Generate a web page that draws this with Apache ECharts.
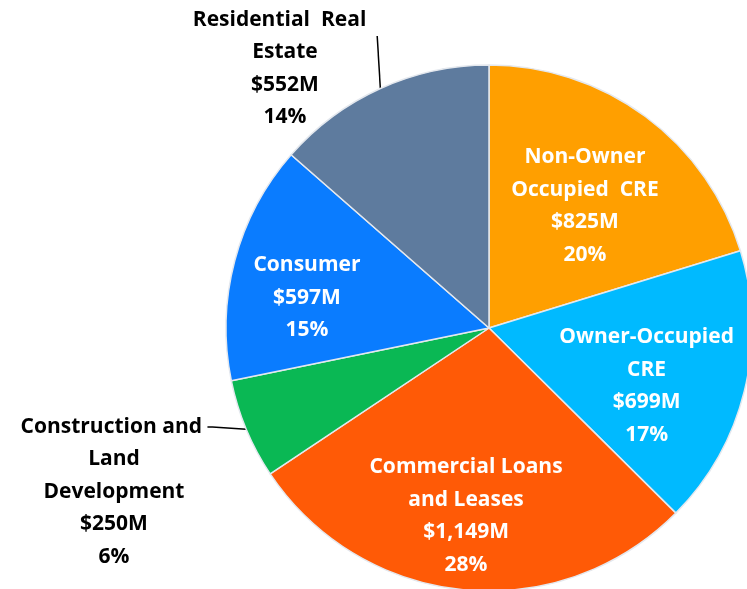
<!DOCTYPE html>
<html>
<head>
<meta charset="utf-8">
<script src="https://cdn.jsdelivr.net/npm/echarts@6/dist/echarts.min.js"></script>
<style>
  html, body { margin: 0; padding: 0; background: #fff; }
  #chart { width: 747px; height: 589px; }
</style>
</head>
<body>
<div id="chart"></div>
<script>
// slices clockwise from 12 o'clock
var names = ["Non-Owner\nOccupied  CRE", "Owner-Occupied\nCRE", "Commercial Loans\nand Leases",
             "Construction and \nLand\nDevelopment", "Consumer", "Residential  Real  \nEstate"];
var amounts = [825, 699, 1149, 250, 597, 552];
var percents = ["20%", "17%", "28%", "6%", "15%", "14%"];
var colors = ["#FF9F00", "#00BAFF", "#FF5A06", "#0AB854", "#0A7CFF", "#5E7B9E"];
var outside = [false, false, false, true, false, true];
// empty lines put above an outside label so its leader line meets the right text line
var padLines = [0, 0, 0, 4, 0, 2];

var chart = echarts.init(document.getElementById("chart"));

// label nudges (px) relative to the library's default inside position
var nudge = [[16, -14], [27, 26], [-10, 54], [0, 0], [-52, 4], [0, 0]];

function money(v) {
    return "$" + v.toLocaleString("en-US") + "M";
}

var data = amounts.map(function(v, i) {
    var item = {
        value: v,
        name: names[i],
        itemStyle: { color: colors[i] }
    };
    if (outside[i]) {
        item.label = { position: "outside", color: "#000", alignTo: "none" };
        item.labelLine = { show: true, length2: i === 3 ? 5 : 0 };
    } else {
        item.label = { position: "inside", color: "#fff" };
        item.labelLine = { show: false };
    }
    return item;
});

chart.setOption({
    animation: false,
    series: [{
        type: "pie",
        center: [489, 328],
        radius: [0, 263],
        startAngle: 90,
        clockwise: true,
        avoidLabelOverlap: false,
        itemStyle: {
            borderColor: "#E4E8EE",
            borderWidth: 1.5
        },
        label: {
            fontFamily: "Open Sans",
            fontWeight: "bold",
            fontSize: 21,
            lineHeight: 32.5,
            align: "center",
            formatter: function(p) {
                var pre = new Array(padLines[p.dataIndex] + 1).join("\n");
                return pre + p.name + "\n" + money(p.value) + "\n" + percents[p.dataIndex];
            }
        },
        labelLine: {
            length: 10,
            length2: 0,
            lineStyle: { color: "#000", width: 1.5 }
        },
        labelLayout: function(p) {
            var i = p.dataIndex;
            if (i === 5) {
                return { x: 285, y: 36, align: "center", verticalAlign: "middle" };
            }
            if (i === 3) {
                return { x: 114, y: 427, align: "center", verticalAlign: "middle" };
            }
            return { dx: nudge[i][0], dy: nudge[i][1] };
        },
        data: data
    }]
});
</script>
</body>
</html>
